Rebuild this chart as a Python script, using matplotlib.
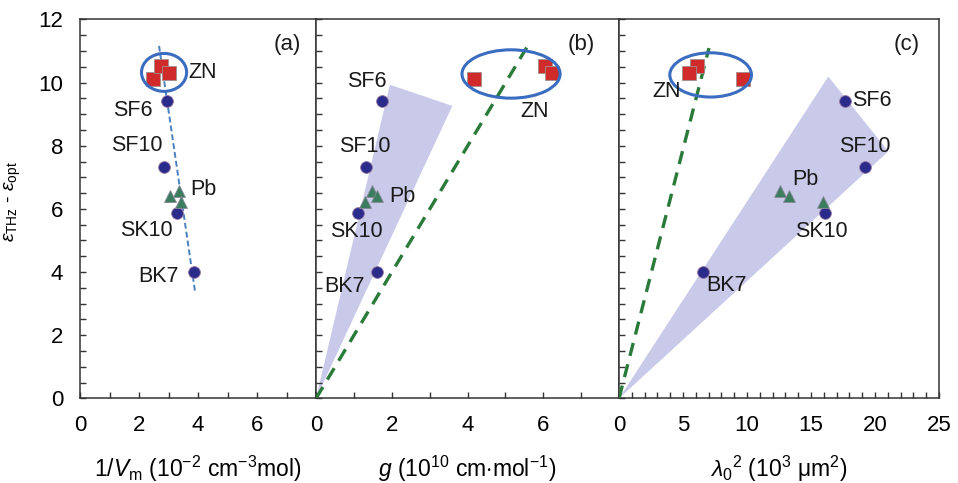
import matplotlib
matplotlib.use("Agg")
import matplotlib.pyplot as plt
from matplotlib.patches import Ellipse, Polygon
from matplotlib.ticker import MultipleLocator, FixedLocator

plt.rcParams['font.family'] = ['Liberation Sans', 'DejaVu Sans']
plt.rcParams['mathtext.fontset'] = 'custom'
plt.rcParams['mathtext.rm'] = 'Liberation Sans'
plt.rcParams['mathtext.it'] = 'Liberation Sans:italic'

# data
glass_names = ['SF6', 'SF10', 'SK10', 'BK7']
glass_eps = [9.42, 7.34, 5.87, 4.01]
pb_eps = [6.58, 6.42, 6.22]
zn_eps = [10.12, 10.53, 10.30]

# panel (a): 1/Vm
glass_a = [2.96, 2.85, 3.28, 3.87]
pb_a = [3.34, 3.05, 3.41]
zn_a = [2.49, 2.73, 3.02]
fit_a_x = [2.68, 3.90]
fit_a_y = [11.16, 3.38]

# panel (b): g
glass_b = [1.75, 1.32, 1.10, 1.61]
pb_b = [1.47, 1.62, 1.29]
zn_b = [4.17, 6.05, 6.23]
fit_b_x = [0, 5.59]
fit_b_y = [0, 11.16]
wedge_b = [(0, 0), (1.95, 9.93), (3.6, 9.26)]

# panel (c): lambda0^2
glass_c = [17.66, 19.2, 16.1, 6.54]
pb_c = [12.58, 13.28, 15.9]
zn_c = [9.66, 6.1, 5.5]
fit_c_x = [0, 7.03]
fit_c_y = [0, 11.09]
wedge_c = [(0, 0), (16.35, 10.19), (21.04, 7.82)]

ticks_ab = [0, 2, 4, 6]
ticks_c = [0, 5, 10, 15, 20, 25]

circ_col = '#2b2b8c'
sq_col = '#d02a2a'
tri_col = '#3b7d5e'
ell_col = '#3a6cc0'
wedge_col = '#c9c9ea'
green = '#2a7a3a'
fs = 16

fig = plt.figure(figsize=(9.58, 4.83), dpi=100)
bot, h = 0.175, 0.785
ax_a = fig.add_axes([80/958, bot, 236/958, h])
ax_b = fig.add_axes([316/958, bot, 303/958, h])
ax_c = fig.add_axes([619/958, bot, 320/958, h])


def style(ax, xmax, ticks):
    ax.set_xlim(0, xmax)
    ax.set_ylim(0, 12)
    ax.xaxis.set_major_locator(FixedLocator(ticks))
    ax.xaxis.set_minor_locator(MultipleLocator(1))
    ax.yaxis.set_major_locator(MultipleLocator(2))
    ax.yaxis.set_minor_locator(MultipleLocator(0.5))
    ax.tick_params(which='both', direction='in', length=4, width=1,
                   color='#333333', labelsize=fs, top=False, right=False)
    ax.tick_params(axis='x', pad=12)
    ax.tick_params(axis='y', pad=12)
    for s in ax.spines.values():
        s.set_color('#333333')
        s.set_linewidth(1.1)


def draw(ax, gx, px, zx, labels):
    ax.plot(gx, glass_eps, 'o', ms=8.5, color=circ_col, mec='#9a7aa0',
            mew=0.6, zorder=5)
    ax.plot(px, pb_eps, '^', ms=9, color=tri_col, mec='#8a8a9a',
            mew=0.6, zorder=5)
    ax.plot(zx, zn_eps, 's', ms=9.5, color=sq_col, mec='#a09090',
            mew=0.6, zorder=5)
    for t, x, y, ha in labels:
        ax.text(x, y, t, fontsize=15.5, ha=ha, va='center', color='#1a1a1a',
                zorder=6)


style(ax_a, 8, ticks_ab)
style(ax_b, 8, ticks_ab)
style(ax_c, 25, ticks_c)

ax_a.plot(fit_a_x, fit_a_y, color='#4a80c0', lw=1.4, dashes=(3, 1.6), zorder=3)
ax_a.add_patch(Ellipse((2.85, 10.32), 1.53, 1.2, fill=False, ec=ell_col,
                       lw=2.2, zorder=6))
draw(ax_a, glass_a, pb_a, zn_a,
     [('ZN', 3.66, 10.31, 'left'), ('SF6', 2.47, 9.13, 'right'),
      ('SF10', 1.92, 8.0, 'center'), ('Pb', 3.73, 6.6, 'left'),
      ('SK10', 2.26, 5.31, 'center'), ('BK7', 3.36, 3.86, 'right')])

ax_b.add_patch(Polygon(wedge_b, closed=True, fc=wedge_col, ec='none', zorder=1))
ax_b.plot(fit_b_x, fit_b_y, color=green, lw=2.4, dashes=(4, 2.6), zorder=3)
ax_b.add_patch(Ellipse((5.15, 10.27), 2.59, 1.53, fill=False, ec=ell_col,
                       lw=2.2, zorder=6))
draw(ax_b, glass_b, pb_b, zn_b,
     [('SF6', 1.33, 10.03, 'center'), ('SF10', 1.29, 7.97, 'center'),
      ('Pb', 1.93, 6.39, 'left'), ('SK10', 1.07, 5.28, 'center'),
      ('BK7', 0.76, 3.54, 'center'), ('ZN', 5.76, 9.08, 'center')])

ax_c.add_patch(Polygon(wedge_c, closed=True, fc=wedge_col, ec='none', zorder=1))
ax_c.plot(fit_c_x, fit_c_y, color=green, lw=2.4, dashes=(4, 2.6), zorder=3)
ax_c.add_patch(Ellipse((7.16, 10.24), 6.38, 1.4, fill=False, ec=ell_col,
                       lw=2.2, zorder=6))
draw(ax_c, glass_c, pb_c, zn_c,
     [('ZN', 3.73, 9.71, 'center'), ('SF6', 18.18, 9.42, 'left'),
      ('SF10', 19.22, 7.97, 'center'), ('Pb', 14.53, 6.92, 'center'),
      ('SK10', 15.84, 5.28, 'center'), ('BK7', 6.85, 3.59, 'left')])

ax_b.set_yticklabels([])
ax_c.set_yticklabels([])

for ax, t, x in [(ax_a, '(a)', 0.88), (ax_b, '(b)', 0.877), (ax_c, '(c)', 0.90)]:
    ax.text(x, 0.933, t, transform=ax.transAxes, fontsize=fs, ha='center',
            va='center', color='#1a1a1a')

ax_a.set_ylabel(r'$\varepsilon_{\rm THz}$ - $\varepsilon_{\rm opt}$',
                fontsize=14)
ax_a.yaxis.set_label_coords(-0.24, 0.52)
ax_a.set_xlabel(r'1/$V_{\rm m}$ (10$^{-2}$ cm$^{-3}$mol)', fontsize=16.5,
                labelpad=13)
ax_b.set_xlabel(r'$g$ (10$^{10}$ cm$\cdot$mol$^{-1}$)', fontsize=16.5,
                labelpad=13)
ax_c.set_xlabel(r'$\lambda_0{}^2$ (10$^3$ μm$^2$)', fontsize=16.5, labelpad=13)

fig.savefig('out.png', dpi=100)
